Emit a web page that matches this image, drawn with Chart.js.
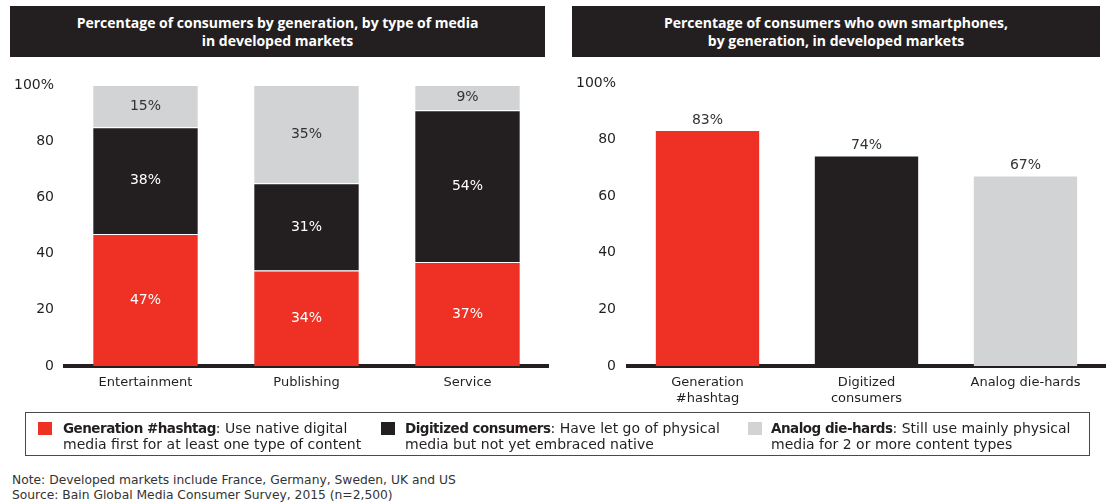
<!DOCTYPE html>
<html>
<head>
<meta charset="utf-8">
<script src="https://cdn.jsdelivr.net/npm/chart.js@4"></script>
<style>
  body { margin: 0; background: #fff; font-family: 'DejaVu Sans', sans-serif; color: #231f20; }
  #page { position: relative; width: 1108px; height: 504px; overflow: hidden; }
  .header { position: absolute; top: 6px; height: 51px; background: #231f20; color: #fff;
    font-family: 'Open Sans', sans-serif; font-weight: 700; font-size: 14px; line-height: 18px;
    text-align: center; display: flex; align-items: center; justify-content: center; }
  .chart { position: absolute; top: 50px; height: 364px; }
  #legend { position: absolute; left: 25px; top: 412px; width: 1063px; height: 42px;
    border: 1.5px solid #4a4a4a; }
  .item { position: absolute; top: 7px; font-size: 14px; line-height: 16px; white-space: nowrap; }
  .item b { font-size: 13.5px; letter-spacing: -0.5px; }
  .swatch { position: absolute; top: 9px; width: 14px; height: 13px; }
  #notes { position: absolute; left: 12px; top: 473px; font-size: 12.3px; line-height: 15px; color: #333; }
</style>
</head>
<body>
<div id="page">
  <div class="header" style="left:10px;width:535px;">Percentage of consumers by generation, by type of media<br>in developed markets</div>
  <div class="header" style="left:572px;width:528px;">Percentage of consumers who own smartphones,<br>by generation, in developed markets</div>

  <div class="chart" style="left:0;width:560px;"><canvas id="mediaChart" width="560" height="364"></canvas></div>
  <div class="chart" style="left:560px;width:548px;"><canvas id="phoneChart" width="548" height="364"></canvas></div>

  <div id="legend">
    <div class="swatch" style="left:12px;background:#ee3124;"></div>
    <div class="item" style="left:37px;"><b>Generation #hashtag</b>: Use native digital<br>media first for at least one type of content</div>
    <div class="swatch" style="left:355px;background:#231f20;"></div>
    <div class="item" style="left:379px;"><b>Digitized consumers</b>: Have let go of physical<br>media but not yet embraced native</div>
    <div class="swatch" style="left:722px;background:#d1d3d4;"></div>
    <div class="item" style="left:745px;"><b>Analog die-hards</b>: Still use mainly physical<br>media for 2 or more content types</div>
  </div>

  <div id="notes">Note: Developed markets include France, Germany, Sweden, UK and US<br>Source: Bain Global Media Consumer Survey, 2015 (n=2,500)</div>
</div>

<script>
const mediaTypes = ['Entertainment', 'Publishing', 'Service'];
const hashtagShare = [47, 34, 37];
const digitizedShare = [38, 31, 54];
const analogShare = [15, 35, 9];

const generations = [['Generation', '#hashtag'], ['Digitized', 'consumers'], 'Analog die-hards'];
const smartphoneShare = [83, 74, 67];

const yTicks = [0, 20, 40, 60, 80, 100];

const RED = '#ee3124';
const BLACK = '#231f20';
const GREY = '#d1d3d4';
const FONT = "'DejaVu Sans', sans-serif";

// writes each bar's value as a percentage, inside the segment or above the bar
const valueLabels = {
  id: 'valueLabels',
  afterDatasetsDraw(chart, args, opts) {
    const ctx = chart.ctx;
    ctx.save();
    ctx.font = '14px ' + FONT;
    ctx.textAlign = 'center';
    ctx.textBaseline = 'middle';
    chart.data.datasets.forEach((ds, i) => {
      chart.getDatasetMeta(i).data.forEach((bar, j) => {
        const v = ds.data[j];
        if (opts.above) {
          ctx.fillStyle = '#333';
          ctx.fillText(v + '%', bar.x, bar.y - 11);
        } else {
          ctx.fillStyle = ds.labelColor;
          ctx.fillText(v + '%', bar.x, (bar.y + bar.base) / 2);
        }
      });
    });
    ctx.restore();
  }
};

function axes(yWidth, yPad) {
  return {
    x: {
      grid: { display: false, drawTicks: false },
      border: { display: true, color: BLACK, width: 4 },
      ticks: { color: BLACK, font: { family: FONT, size: 13 }, padding: 9, maxRotation: 0, autoSkip: false },
      afterFit(scale) { scale.height = 48; }
    },
    y: {
      min: 0,
      max: 100,
      afterBuildTicks(scale) { scale.ticks = yTicks.map(v => ({ value: v })); },
      grid: { display: false, drawTicks: false },
      border: { display: false },
      ticks: {
        color: BLACK,
        font: { family: FONT, size: 14 },
        padding: yPad,
        callback: v => (v === 100 ? '100%' : v)
      },
      afterFit(scale) { scale.width = yWidth; }
    }
  };
}

const mediaScales = axes(60, 11);
mediaScales.x.stacked = true;
mediaScales.y.stacked = true;

new Chart(document.getElementById('mediaChart'), {
  type: 'bar',
  data: {
    labels: mediaTypes,
    datasets: [
      { data: hashtagShare, backgroundColor: RED, labelColor: '#fff' },
      { data: digitizedShare, backgroundColor: BLACK, labelColor: '#fff' },
      { data: analogShare, backgroundColor: GREY, labelColor: '#333' }
    ].map(ds => Object.assign(ds, {
      barPercentage: 0.65,
      categoryPercentage: 1,
      borderColor: '#fff',
      borderWidth: { top: 1, bottom: 0, left: 0, right: 0 },
      borderSkipped: false
    }))
  },
  options: {
    responsive: false,
    animation: false,
    layout: { padding: { left: 5, right: 12, top: 35, bottom: 0 } },
    scales: mediaScales,
    plugins: { legend: { display: false }, tooltip: { enabled: false }, valueLabels: { above: false } }
  },
  plugins: [valueLabels]
});

new Chart(document.getElementById('phoneChart'), {
  type: 'bar',
  data: {
    labels: generations,
    datasets: [{
      data: smartphoneShare,
      backgroundColor: [RED, BLACK, GREY],
      barPercentage: 0.65,
      categoryPercentage: 1
    }]
  },
  options: {
    responsive: false,
    animation: false,
    layout: { padding: { left: 8, right: 3, top: 33, bottom: 0 } },
    scales: axes(60, 12),
    plugins: { legend: { display: false }, tooltip: { enabled: false }, valueLabels: { above: true } }
  },
  plugins: [valueLabels]
});
</script>
</body>
</html>
